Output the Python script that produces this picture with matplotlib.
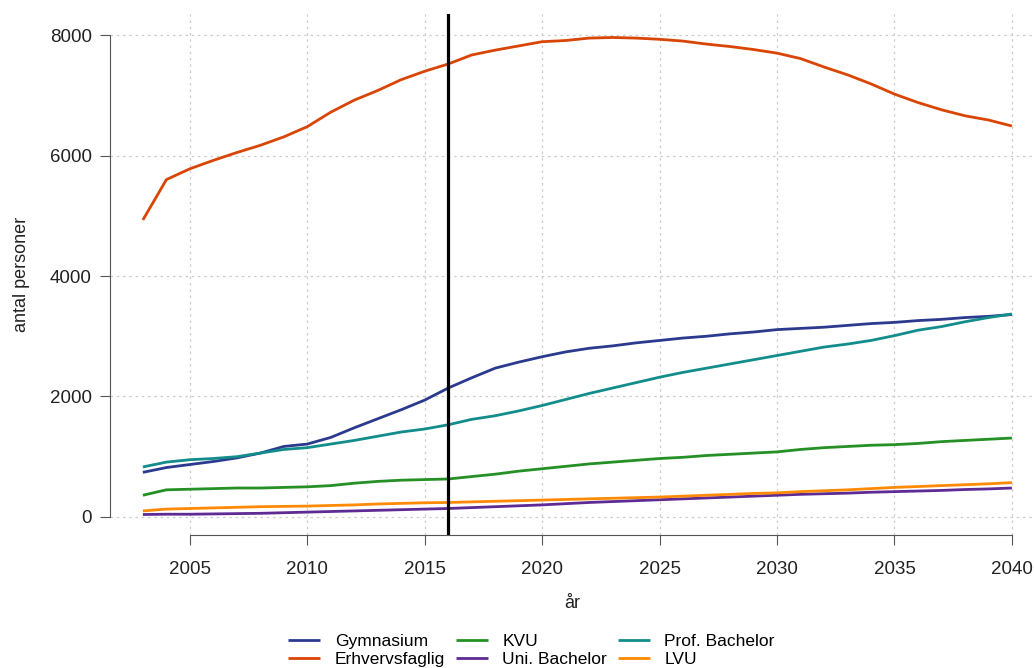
import matplotlib
matplotlib.use("Agg")
import matplotlib.pyplot as plt
import numpy as np

plt.rcParams['font.family'] = ['Liberation Sans', 'DejaVu Sans']

# Data (antal personer pr. år)
years = np.arange(2003, 2041)

gymnasium = [740, 820, 870, 920, 980, 1060, 1170, 1210, 1320, 1480,
             1630, 1780, 1940, 2140, 2310, 2470, 2570, 2660, 2740, 2800,
             2840, 2890, 2930, 2970, 3000, 3040, 3070, 3110, 3130, 3150,
             3180, 3210, 3230, 3260, 3280, 3310, 3330, 3360]
erhvervsfaglig = [4930, 5600, 5780, 5920, 6050, 6170, 6310, 6480, 6720, 6920,
                  7080, 7260, 7400, 7520, 7670, 7750, 7820, 7890, 7910, 7950,
                  7960, 7950, 7930, 7900, 7850, 7810, 7760, 7700, 7610, 7470,
                  7340, 7190, 7020, 6880, 6760, 6660, 6590, 6490]
kvu = [360, 450, 460, 470, 480, 480, 490, 500, 520, 560,
       590, 610, 620, 630, 670, 710, 760, 800, 840, 880,
       910, 940, 970, 990, 1020, 1040, 1060, 1080, 1120, 1150,
       1170, 1190, 1200, 1220, 1250, 1270, 1290, 1310]
uni_bachelor = [40, 45, 45, 50, 55, 60, 70, 80, 90, 100,
                110, 120, 130, 140, 155, 170, 185, 200, 220, 240,
                255, 270, 285, 300, 315, 330, 345, 360, 375, 385,
                395, 410, 420, 430, 440, 455, 465, 480]
prof_bachelor = [830, 910, 950, 970, 1000, 1060, 1120, 1150, 1210, 1270,
                 1340, 1410, 1460, 1530, 1620, 1680, 1760, 1850, 1950, 2050,
                 2140, 2230, 2320, 2400, 2470, 2540, 2610, 2680, 2750, 2820,
                 2870, 2930, 3010, 3100, 3160, 3240, 3310, 3370]
lvu = [100, 130, 140, 150, 160, 170, 175, 180, 190, 200,
       215, 225, 235, 240, 250, 260, 270, 280, 290, 300,
       310, 320, 330, 345, 360, 375, 390, 400, 420, 435,
       450, 470, 490, 505, 520, 535, 550, 570]

series = [
    ("Gymnasium", gymnasium, "#2B3A8F"),
    ("Erhvervsfaglig", erhvervsfaglig, "#D94505"),
    ("KVU", kvu, "#259025"),
    ("Uni. Bachelor", uni_bachelor, "#5E2A94"),
    ("Prof. Bachelor", prof_bachelor, "#138C8C"),
    ("LVU", lvu, "#FF8A05"),
]
split_year = 2016
x_ticks = [2005, 2010, 2015, 2020, 2025, 2030, 2035, 2040]
y_ticks = [0, 2000, 4000, 6000, 8000]

W, H = 1034, 668
fig = plt.figure(figsize=(W / 100, H / 100), dpi=100)
# plot region: x 110..1034 px, y 14..535 px
ax = fig.add_axes([110 / W, 1 - 535 / H, (W - 110) / W, (535 - 14) / H])

for name, vals, col in series:
    ax.plot(years, vals, color=col, lw=2.0, label=name, solid_capstyle='butt')

ax.axvline(split_year, color='black', lw=2.3)

ax.set_xlim(2001.6, 2040.94)
ax.set_ylim(-300, 8350)

# R-style axes
for s in ['top', 'right']:
    ax.spines[s].set_visible(False)
ax.spines['left'].set_bounds(0, 8000)
ax.spines['bottom'].set_bounds(2005, 2040)
ax.spines['left'].set_color('#555555')
ax.spines['bottom'].set_color('#555555')
ax.set_xticks(x_ticks)
ax.set_yticks(y_ticks)
ax.tick_params(axis='both', length=7, color='#555555', labelsize=13.5,
               labelcolor='#222222')
ax.tick_params(axis='x', pad=12)
ax.tick_params(axis='y', pad=6)
ax.grid(True, linestyle=(0, (2, 3)), color='#CCCCCC', lw=0.9)
ax.set_axisbelow(True)

ax.set_xlabel("år", fontsize=13, color='#222222', labelpad=12)
ax.set_ylabel("antal personer", fontsize=13, color='#222222', labelpad=14)

fig.legend(loc='upper left', bbox_to_anchor=(288 / W, 1 - 634 / H), ncol=3,
           frameon=False, fontsize=12.5, handlelength=1.85, columnspacing=0.6,
           labelspacing=0.15, handletextpad=0.85, borderpad=0, borderaxespad=0)

fig.savefig("out.png", dpi=100)
